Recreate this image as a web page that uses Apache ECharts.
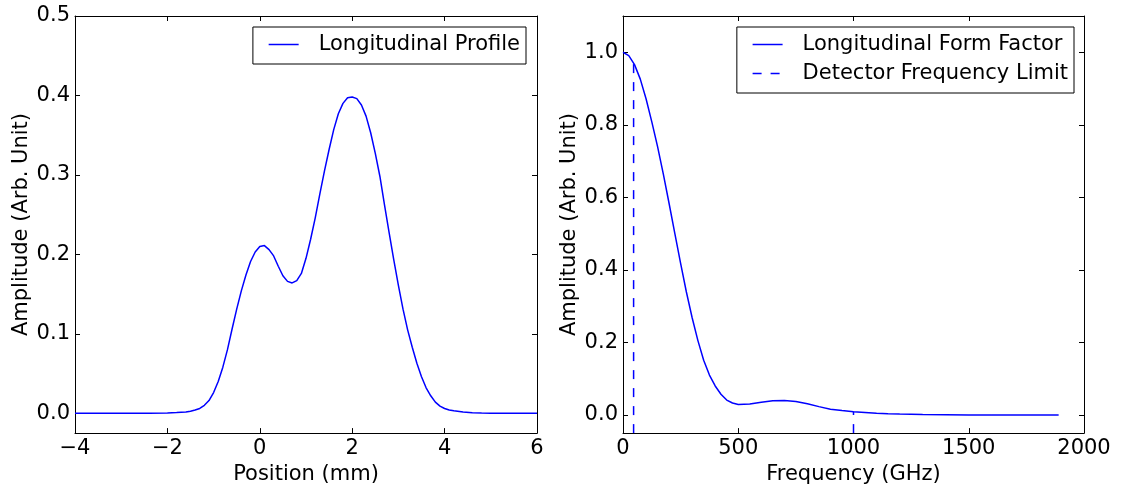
<!DOCTYPE html>
<html>
<head>
<meta charset="utf-8">
<script src="https://cdn.jsdelivr.net/npm/echarts@6/dist/echarts.min.js"></script>
<style>
html,body{margin:0;padding:0;background:#fff;}
#chart{width:1123px;height:490px;}
</style>
</head>
<body>
<div id="chart"></div>
<script>
// ---- Left panel: longitudinal profile ----
const posX = [-4, -3, -2.4, -2.0, -1.8, -1.6, -1.5, -1.4, -1.3, -1.2, -1.1, -1.0, -0.9, -0.8, -0.7, -0.6, -0.5, -0.4, -0.3, -0.2, -0.1,
  0.0, 0.1, 0.2, 0.3, 0.4, 0.5, 0.6, 0.7, 0.8, 0.9, 1.0, 1.1, 1.2, 1.3, 1.4, 1.5, 1.6, 1.7, 1.8, 1.9,
  2.0, 2.1, 2.2, 2.3, 2.4, 2.5, 2.6, 2.7, 2.8, 2.9, 3.0, 3.1, 3.2, 3.3, 3.4, 3.5, 3.6, 3.7, 3.8, 3.9,
  4.0, 4.1, 4.2, 4.4, 4.6, 4.8, 5.0, 6.0];
const profile = [0, 0, 0, 0.0003, 0.0008, 0.0015, 0.0025, 0.004, 0.006, 0.010, 0.016, 0.026, 0.040, 0.058, 0.080, 0.106, 0.131, 0.154, 0.174, 0.191, 0.203,
  0.210, 0.211, 0.206, 0.198, 0.185, 0.173, 0.166, 0.164, 0.167, 0.176, 0.195, 0.219, 0.246, 0.276, 0.305, 0.332, 0.357, 0.377, 0.390, 0.397,
  0.398, 0.396, 0.388, 0.374, 0.353, 0.327, 0.298, 0.262, 0.227, 0.193, 0.161, 0.131, 0.105, 0.083, 0.063, 0.046, 0.032, 0.022, 0.014, 0.009,
  0.006, 0.004, 0.003, 0.0015, 0.0006, 0.0002, 0, 0];
const posTicks = [-4, -2, 0, 2, 4, 6];
const profileTicks = [0, 0.1, 0.2, 0.3, 0.4, 0.5];

// ---- Right panel: form factor ----
const freqGHz = [0, 25, 50, 75, 100, 125, 150, 175, 200, 225, 250, 275, 300, 325, 350, 375, 400, 425, 450, 475, 500,
  550, 600, 650, 700, 750, 800, 850, 900, 950, 1000, 1050, 1100, 1150, 1200, 1300, 1400, 1500, 1600, 1700, 1800, 1890];
const formFactor = [1.0, 0.991, 0.966, 0.926, 0.872, 0.808, 0.740, 0.664, 0.583, 0.500, 0.418, 0.339, 0.268, 0.205, 0.151, 0.110, 0.080, 0.057, 0.041, 0.033, 0.029,
  0.030, 0.035, 0.039, 0.040, 0.037, 0.031, 0.023, 0.016, 0.012, 0.009, 0.007, 0.005, 0.0035, 0.0025, 0.001, 0.0005, 0.0002, 0, 0, 0, 0];
const detectorLimits = [46, 1000];
const detectorTops = [0.97, 0.009];
const freqTicks = [0, 500, 1000, 1500, 2000];
const ffTicks = [0, 0.2, 0.4, 0.6, 0.8, 1.0];

const FONT = 'DejaVu Sans';
const FS = 21;
const BLUE = '#0000ff';
const fmtMinus = v => String(v).replace('-', '\u2212');

function xAx(grid, min, max, interval, name, top) {
  return {
    type: 'value', gridIndex: grid, min: min, max: max, interval: interval,
    position: top ? 'top' : 'bottom',
    name: top ? '' : name, nameLocation: 'middle', nameGap: 28,
    nameTextStyle: {fontFamily: FONT, fontSize: FS, color: '#000'},
    axisLine: {show: true, onZero: false, lineStyle: {color: '#000', width: 1}},
    axisTick: {show: true, inside: true, length: 5, lineStyle: {color: '#000', width: 1}},
    axisLabel: {show: !top, margin: 5, fontFamily: FONT, fontSize: FS, color: '#000', formatter: fmtMinus, showMinLabel: true, showMaxLabel: true},
    splitLine: {show: false}
  };
}
function yAx(grid, min, max, ticks, name, right) {
  return {
    type: 'value', gridIndex: grid, min: min, max: max,
    position: right ? 'right' : 'left',
    name: right ? '' : name, nameLocation: 'middle', nameGap: 43,
    nameTextStyle: {fontFamily: FONT, fontSize: FS, color: '#000'},
    axisLine: {show: true, onZero: false, lineStyle: {color: '#000', width: 1}},
    axisTick: {show: true, inside: true, length: 5, customValues: ticks, lineStyle: {color: '#000', width: 1}},
    axisLabel: {show: !right, margin: 5, fontFamily: FONT, fontSize: FS, color: '#000', customValues: ticks, formatter: v => v.toFixed(1)},
    splitLine: {show: false}
  };
}

const yMinRight = -0.05;
const detectorSeries = detectorLimits.map((f, i) => ({
  name: 'Detector Frequency Limit', type: 'line', xAxisIndex: 2, yAxisIndex: 2,
  data: [[f, yMinRight], [f, detectorTops[i]]],
  symbol: 'none', lineStyle: {color: BLUE, width: 1.5, type: [9, 9]}, itemStyle: {color: BLUE},
  silent: true, animation: false, z: 3
}));

const legendBase = {
  orient: 'vertical', top: 27, itemWidth: 30, itemHeight: 14, itemGap: 8,
  borderColor: '#000', borderWidth: 1, borderRadius: 0, backgroundColor: '#fff',
  padding: [7, 6, 9, 15], align: 'left',
  itemStyle: {opacity: 0, borderWidth: 0},
  lineStyle: {width: 1.5},
  textStyle: {fontFamily: FONT, fontSize: FS, color: '#000', lineHeight: 21, padding: [0, 0, 0, 15]},
  selectedMode: false
};

const option = {
  animation: false,
  backgroundColor: '#fff',
  grid: [
    {left: 75, right: 586, top: 16, bottom: 56},
    {left: 623, right: 39, top: 16, bottom: 56}
  ],
  xAxis: [
    xAx(0, -4, 6, 2, 'Position (mm)', false),
    xAx(0, -4, 6, 2, '', true),
    xAx(1, 0, 2000, 500, 'Frequency (GHz)', false),
    xAx(1, 0, 2000, 500, '', true)
  ],
  yAxis: [
    yAx(0, -0.025, 0.5, profileTicks, 'Amplitude (Arb. Unit)', false),
    yAx(0, -0.025, 0.5, profileTicks, '', true),
    yAx(1, yMinRight, 1.1, ffTicks, 'Amplitude (Arb. Unit)', false),
    yAx(1, yMinRight, 1.1, ffTicks, '', true)
  ],
  legend: [
    Object.assign({}, legendBase, {right: 597, data: ['Longitudinal Profile']}),
    Object.assign({}, legendBase, {right: 49, data: ['Longitudinal Form Factor', 'Detector Frequency Limit']})
  ],
  series: [
    {
      name: 'Longitudinal Profile', type: 'line', xAxisIndex: 0, yAxisIndex: 0,
      data: posX.map((x, i) => [x, profile[i]]),
      symbol: 'none', smooth: false,
      lineStyle: {color: BLUE, width: 1.5}, itemStyle: {color: BLUE}
    },
    {
      name: 'Longitudinal Form Factor', type: 'line', xAxisIndex: 2, yAxisIndex: 2,
      data: freqGHz.map((f, i) => [f, formFactor[i]]),
      symbol: 'none', smooth: false,
      lineStyle: {color: BLUE, width: 1.5}, itemStyle: {color: BLUE}
    }
  ].concat(detectorSeries)
};

const chart = echarts.init(document.getElementById('chart'), null, {renderer: 'canvas'});
chart.setOption(option);
</script>
</body>
</html>
